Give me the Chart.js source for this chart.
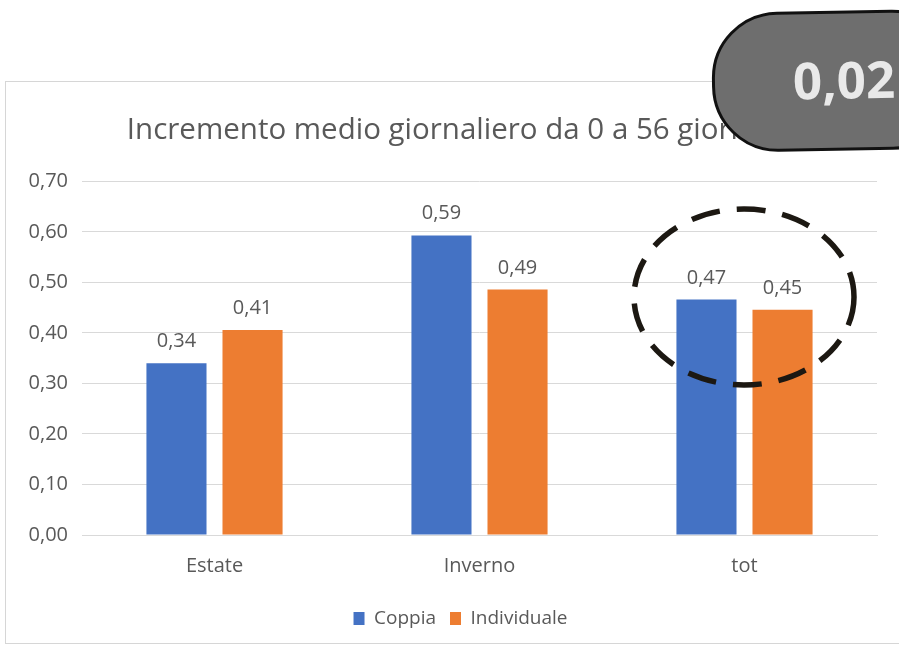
<!DOCTYPE html>
<html lang="it">
<head>
  <meta charset="UTF-8">
  <title>Incremento medio giornaliero</title>
  <script src="https://cdn.jsdelivr.net/npm/chart.js"></script>
  <style>
    html, body { margin: 0; padding: 0; background: #fff; overflow: hidden; }
    body { width: 899px; height: 653px; position: relative; font-family: "Open Sans", sans-serif; }
    #panel { position: absolute; left: 5px; top: 81px; width: 930px; height: 561px; border: 1px solid #d6d6d6; background: #fff; }
    #wrap { position: absolute; left: 0; top: 0; width: 900px; height: 561px; }
    #ring { position: absolute; left: 0; top: 0; pointer-events: none; }
    #badge { position: absolute; left: 712px; top: 13px; width: 240px; height: 134px; background: #6e6e6e;
             border: 3px solid #111; border-radius: 66px; transform: rotate(-1deg); transform-origin: left center; }
    #badge span { position: absolute; left: 78px; top: 40px; font: bold 51px "Open Sans", sans-serif; color: #e9e9e9; line-height: 1; }
  </style>
</head>
<body>
  <div id="panel">
    <div id="wrap"><canvas id="bars"></canvas></div>
  </div>

  <svg id="ring" width="899" height="653">
    <ellipse cx="744" cy="297" rx="110" ry="88" fill="none" stroke="#1c1812" stroke-width="5.5" stroke-dasharray="29 17"/>
  </svg>

  <div id="badge"><span>0,02</span></div>

  <script>
    const categories = ['Estate', 'Inverno', 'tot'];
    const seriesNames = ['Coppia', 'Individuale'];
    // values
    const coppia = [0.34, 0.593, 0.466];
    const individuale = [0.406, 0.486, 0.446];
    const yTicks = [0, 0.1, 0.2, 0.3, 0.4, 0.5, 0.6, 0.7];

    const grey = '#595959';
    const fmt = v => v.toFixed(2).replace('.', ',');

    // value labels above each bar
    const barLabels = {
      id: 'barLabels',
      afterDatasetsDraw(chart) {
        const ctx = chart.ctx;
        ctx.save();
        ctx.font = '20px "Open Sans", sans-serif';
        ctx.fillStyle = grey;
        ctx.textAlign = 'center';
        ctx.textBaseline = 'alphabetic';
        chart.data.datasets.forEach((ds, i) => {
          chart.getDatasetMeta(i).data.forEach((bar, j) => {
            ctx.fillText(fmt(ds.data[j]), bar.x, bar.y - 16);
          });
        });
        ctx.restore();
      }
    };

    // legend sits a bit right of the title centre in the original
    const nudgeLegend = {
      id: 'nudgeLegend',
      afterLayout(chart) {
        chart.legend.left += 19;
        chart.legend.right += 19;
      }
    };

    new Chart(document.getElementById('bars'), {
      type: 'bar',
      data: {
        labels: categories,
        datasets: [
          { label: seriesNames[0], data: coppia, backgroundColor: '#4472C4' },
          { label: seriesNames[1], data: individuale, backgroundColor: '#ED7D31' }
        ]
      },
      options: {
        responsive: true,
        maintainAspectRatio: false,
        animation: false,
        categoryPercentage: 0.574,
        barPercentage: 0.79,
        layout: { padding: { left: 0, right: 29, top: 0, bottom: 5 } },
        scales: {
          x: {
            grid: { display: false },
            border: { color: '#d9d9d9' },
            afterFit: s => { s.height += 6; },
            ticks: { color: grey, font: { family: 'Open Sans', size: 20 }, padding: 11 }
          },
          y: {
            min: 0,
            max: 0.7,
            afterBuildTicks: s => { s.ticks = yTicks.map(v => ({ value: v })); },
            afterFit: s => { s.width = 76; },
            grid: { color: '#d9d9d9', drawTicks: false },
            border: { display: false },
            ticks: { color: grey, font: { family: 'Open Sans', size: 20 }, padding: 14, callback: v => fmt(v) }
          }
        },
        plugins: {
          title: {
            display: true,
            text: 'Incremento medio giornaliero da 0 a 56 giorni',
            color: grey,
            font: { family: 'Open Sans', size: 29.5, weight: 'normal' },
            padding: { top: 31, bottom: 33 }
          },
          legend: {
            position: 'bottom',
            labels: { color: grey, font: { family: 'Open Sans', size: 19 }, boxWidth: 11, boxHeight: 13, padding: 14 }
          },
          tooltip: { enabled: false }
        }
      },
      plugins: [barLabels, nudgeLegend]
    });
  </script>
</body>
</html>
